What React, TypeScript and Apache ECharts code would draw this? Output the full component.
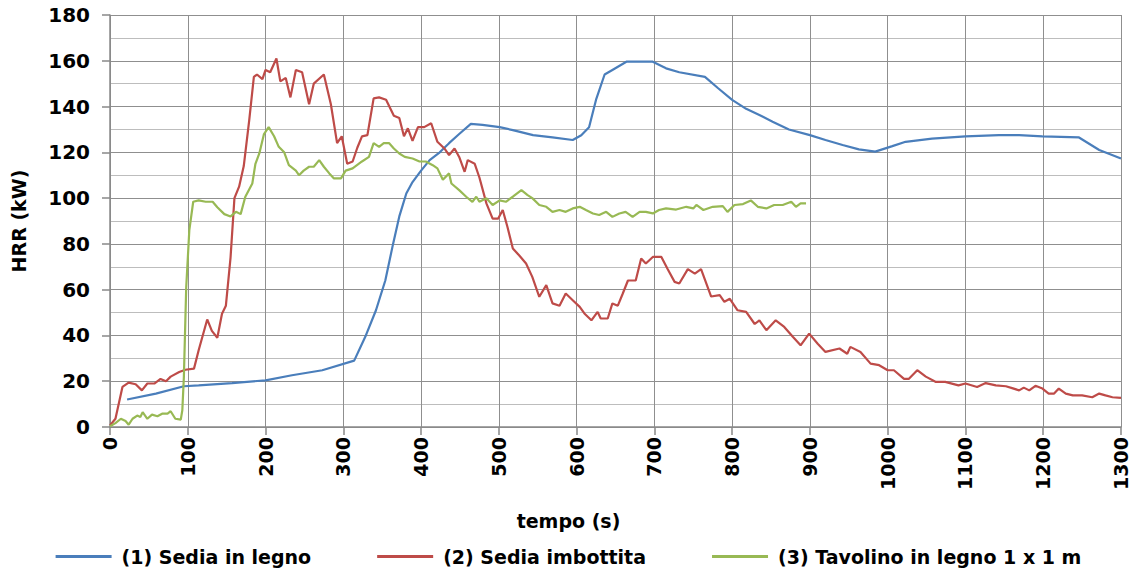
import React, { useEffect, useRef } from "react";
import * as echarts from "echarts";

const seriesNames = ["(1) Sedia in legno", "(2) Sedia imbottita", "(3) Tavolino in legno 1 x 1 m"];
const xTicks = { min: 0, max: 1300, step: 100 };
const yTicks = { min: 0, max: 180, step: 20 };

// (1) Sedia in legno: [tempo s, HRR kW]
const sediaLegno: [number, number][] = [
  [22, 12], [59, 14.6], [95, 17.8], [114, 18.2], [157, 19.2], [200, 20.4], [234, 22.6], [273, 24.8],
  [314, 29], [329, 40], [342, 51], [354, 64], [364, 80], [372, 92], [381, 102], [389, 107], [400, 112],
  [411, 116.6], [424, 120], [436, 124], [449, 128], [464, 132.4], [479, 132], [501, 131], [518, 129.7],
  [544, 127.5], [569, 126.5], [595, 125.4], [606, 127.5], [616, 131], [625, 143], [636, 154], [646, 156],
  [664, 159.6], [681, 159.6], [698, 159.6], [715, 156.7], [732, 155], [765, 153], [782, 148], [800, 142.9],
  [818, 139], [835, 136.3], [852, 133.4], [873, 130], [900, 127.5], [920, 125.4], [942, 123.2], [963, 121.3],
  [984, 120.3], [1006, 122.7], [1023, 124.6], [1057, 126], [1100, 127], [1143, 127.5], [1169, 127.5],
  [1199, 127], [1246, 126.5], [1272, 121], [1300, 117.3],
];

// (2) Sedia imbottita
const sediaImbottita: [number, number][] = [
  [0, 0.7], [7, 3.6], [16, 17.5], [24, 19.4], [33, 18.7], [41, 16], [48, 19], [57, 19], [65, 21], [72, 20],
  [78, 22], [89, 24], [97, 25], [108, 25.5], [114, 33.5], [125, 47], [131, 42], [138, 39], [144, 49.5],
  [149, 53], [155, 74], [160, 100], [166, 105], [172, 114], [179, 134], [185, 153], [189, 154], [196, 152],
  [200, 156], [206, 155], [214, 161], [219, 151], [226, 152.5], [232, 144], [239, 156], [247, 155], [256, 141],
  [262, 150], [275, 154], [284, 141], [292, 124], [298, 127], [305, 115], [312, 116], [318, 122], [324, 127],
  [331, 127.5], [339, 143.6], [346, 144], [355, 143], [365, 136], [372, 135], [378, 127], [383, 130.5],
  [389, 125], [396, 131], [404, 131], [413, 132.7], [421, 124.6], [430, 121.7], [436, 118.8], [443, 121.7],
  [449, 118], [456, 111.5], [460, 116.6], [469, 115], [475, 109], [484, 97.7], [492, 91], [499, 91],
  [505, 94.8], [511, 87.5], [518, 78], [526, 75], [535, 71.4], [543, 65.6], [552, 56.9], [561, 62], [569, 54],
  [578, 53], [586, 58.3], [595, 55.4], [604, 52.5], [610, 49.6], [619, 46.6], [627, 50.3], [631, 47.4],
  [640, 47.4], [646, 54], [653, 53], [659, 58], [666, 64], [676, 64], [683, 73.6], [689, 71.4], [698, 74.3],
  [709, 74.3], [717, 69], [726, 63.4], [732, 62.7], [743, 69], [752, 67], [760, 69], [773, 57], [784, 57.6],
  [790, 54.7], [797, 56], [807, 51], [818, 50.3], [829, 45], [835, 46.6], [844, 42.3], [856, 46.6], [867, 43.7],
  [878, 39.4], [888, 35.7], [899, 40.8], [910, 36.4], [920, 32.8], [938, 34.3], [948, 32], [952, 35],
  [965, 32.8], [978, 27.7], [989, 27], [1000, 24.8], [1008, 24.8], [1021, 21], [1027, 21], [1038, 24.8],
  [1049, 22], [1062, 19.7], [1074, 19.7], [1091, 18.2], [1100, 19], [1115, 17.5], [1126, 19.2], [1139, 18.2],
  [1152, 17.8], [1160, 17], [1169, 16], [1175, 17.2], [1182, 16], [1190, 18], [1199, 16.8], [1207, 14.6],
  [1214, 14.6], [1220, 16.8], [1229, 14.6], [1238, 13.8], [1250, 13.8], [1263, 13], [1272, 14.6], [1280, 13.8],
  [1289, 13], [1300, 12.7],
];

// (3) Tavolino in legno 1 x 1 m
const tavolino: [number, number][] = [
  [0, 0.3], [7, 1.7], [14, 3.6], [20, 2.6], [24, 1], [29, 3.6], [35, 5], [39, 4.4], [42, 6.5], [48, 3.6],
  [54, 5.4], [61, 4.7], [67, 5.8], [74, 5.8], [78, 6.9], [84, 3.6], [91, 3.2], [93, 7.3], [95, 21.9], [98, 61],
  [102, 86], [107, 98.4], [114, 99], [123, 98.4], [132, 98.4], [138, 96], [147, 93], [155, 92], [162, 94],
  [168, 93], [174, 100.6], [183, 106.4], [187, 115], [192, 119.5], [198, 128], [204, 131], [211, 127],
  [217, 122.4], [224, 120], [230, 114.4], [239, 112], [243, 110], [249, 112], [256, 113.7], [262, 113.7],
  [269, 116.6], [275, 113.7], [282, 110.8], [288, 108.6], [297, 108.6], [303, 112], [312, 113], [324, 116],
  [333, 118], [339, 124], [346, 122.4], [352, 124], [359, 124], [365, 121.7], [372, 119.5], [379, 118],
  [389, 117.3], [398, 116], [406, 116], [415, 114.4], [421, 113], [428, 108], [436, 110.8], [439, 106.4],
  [449, 103.5], [458, 100.6], [466, 98.4], [471, 100.6], [475, 98.4], [484, 99.9], [492, 97], [501, 99],
  [509, 98.4], [518, 100.6], [529, 103.5], [537, 101.3], [543, 100], [552, 97], [561, 96.2], [569, 94],
  [578, 94.8], [586, 94], [595, 95.5], [604, 96.2], [612, 94.8], [621, 93.3], [629, 92.6], [638, 94],
  [646, 91.8], [655, 93.3], [663, 94], [672, 91.8], [681, 94], [689, 94], [698, 93.3], [706, 94.8], [715, 95.5],
  [728, 95], [741, 96.2], [750, 95.5], [754, 97], [763, 94.8], [775, 96.2], [788, 96.5], [794, 94], [803, 97],
  [814, 97.4], [824, 99], [833, 96.2], [844, 95.5], [854, 97], [865, 97], [876, 98.4], [882, 96.2],
  [888, 97.7], [895, 97.7],
];

const colors = ["#4a7ebb", "#be4b48", "#98b954"];
const FONT = "DejaVu Sans";

export default function App() {
  const ref = useRef<HTMLDivElement>(null);
  useEffect(() => {
    if (!ref.current) return;
    const chart = echarts.init(ref.current, undefined, { renderer: "svg" });
    const datasets = [sediaLegno, sediaImbottita, tavolino];
    chart.setOption({
      animation: false,
      backgroundColor: "#ffffff",
      color: colors,
      title: {
        text: "tempo (s)",
        left: "center",
        top: 506,
        textStyle: { fontFamily: FONT, fontWeight: "bold", fontSize: 19, color: "#000" },
      },
      legend: {
        data: seriesNames,
        left: "center",
        top: 542,
        icon: "rect",
        itemWidth: 56,
        itemHeight: 3,
        itemGap: 66,
        textStyle: {
          fontFamily: FONT,
          fontWeight: "bold",
          fontSize: 19,
          color: "#000",
          padding: [0, 0, 0, 5],
        },
      },
      grid: { left: 110, right: 16, top: 15, bottom: 143, containLabel: false },
      xAxis: {
        type: "value",
        min: xTicks.min,
        max: xTicks.max,
        interval: xTicks.step,
        axisLine: { show: true, lineStyle: { color: "#888", width: 1.5 } },
        axisTick: { show: true, length: 8, lineStyle: { color: "#888", width: 1.5 } },
        axisLabel: {
          rotate: 90,
          margin: 10,
          fontFamily: FONT,
          fontWeight: "bold",
          fontSize: 19,
          color: "#000",
          formatter: (v: number) => String(v),
        },
        splitLine: { show: true, lineStyle: { color: "#8f8f8f", width: 1 } },
      },
      yAxis: {
        type: "value",
        min: yTicks.min,
        max: yTicks.max,
        interval: yTicks.step,
        name: "HRR (kW)",
        nameLocation: "middle",
        nameGap: 82,
        nameTextStyle: { fontFamily: FONT, fontWeight: "bold", fontSize: 19, color: "#000" },
        axisLine: { show: true, lineStyle: { color: "#888", width: 1.5 } },
        axisTick: { show: true, length: 8, lineStyle: { color: "#888", width: 1.5 } },
        axisLabel: {
          margin: 20,
          fontFamily: FONT,
          fontWeight: "bold",
          fontSize: 20,
          color: "#000",
          formatter: (v: number) => String(v),
        },
        splitLine: { show: true, lineStyle: { color: "#8f8f8f", width: 1 } },
        minorTick: { show: false, splitNumber: 2 },
        minorSplitLine: { show: true, lineStyle: { color: "#bdbdbd", width: 1 } },
      },
      series: datasets.map((d, i) => ({
        name: seriesNames[i],
        type: "line",
        data: d,
        symbol: "none",
        smooth: false,
        lineStyle: { width: 2.2, color: colors[i] },
        itemStyle: { color: colors[i] },
      })),
    });
    return () => chart.dispose();
  }, []);
  return <div ref={ref} style={{ width: 1137, height: 570, position: "absolute", left: 0, top: 0 }} />;
}
